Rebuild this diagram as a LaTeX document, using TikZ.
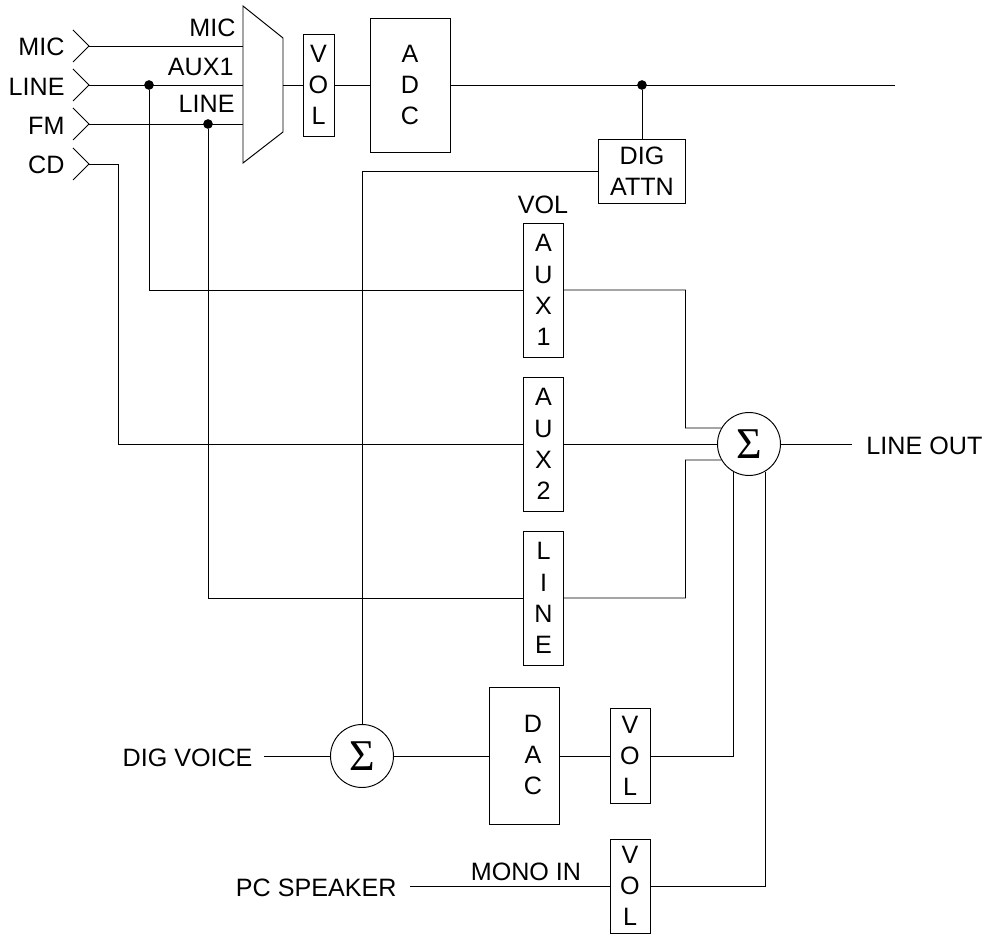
\documentclass[tikz,border=0pt]{standalone}
\usepackage{fontspec}
\setmainfont{Liberation Sans}
\newfontfamily\sigmafont{Liberation Serif}
\begin{document}
\begin{tikzpicture}[x=2cm,y=-2cm,line width=0.55pt,
        every node/.style={font=\fontsize{14.3}{17.8}\selectfont,inner sep=0pt},
        dot/.style={circle,fill=black,minimum size=5.5pt,inner sep=0pt},
        vbox/.style={draw,align=center,minimum width=0.8cm},
        sumnode/.style={circle,draw,minimum size=1.26cm,font=\fontsize{25}{25}\selectfont\sigmafont}]
    \useasboundingbox (0,0) rectangle (9.85,9.34);
    % inputs
    \node[anchor=east] (micl) at (0.65,0.47) {MIC};
    \node[anchor=east] (linel) at (0.65,0.87) {LINE};
    \node[anchor=east] (fml) at (0.65,1.26) {FM};
    \node[anchor=east] (cdl) at (0.65,1.65) {CD};
    \coordinate (micin) at (0.89,0.46);
    \coordinate (linein) at (0.89,0.85);
    \coordinate (fmin) at (0.89,1.24);
    \coordinate (cdin) at (0.89,1.64);
    \foreach \tip in {micin,linein,fmin,cdin}
        \draw (\tip) ++(-0.16,-0.16) -- (\tip) -- ++(-0.16,0.16);
    % mux
    \draw (2.43,0.06) -- (2.83,0.38) -- (2.83,1.32) -- (2.43,1.63) -- cycle;
    \coordinate (muxmic) at (2.43,0.46);
    \coordinate (muxaux) at (2.43,0.85);
    \coordinate (muxline) at (2.43,1.24);
    \coordinate (muxout) at (2.83,0.85);
    \node[anchor=east] (mict) at (2.36,0.28) {MIC};
    \node[anchor=east] (auxt) at (2.34,0.67) {AUX1};
    \node[anchor=east] (linet) at (2.35,1.04) {LINE};
    % capture path
    \node[vbox,minimum width=0.62cm,minimum height=2.04cm] (volin) at (3.185,0.85) {V\\O\\L};
    \node[vbox,minimum width=1.6cm,minimum height=2.68cm] (adc) at (4.10,0.85) {A\\D\\C};
    \coordinate (capout) at (8.95,0.85);
    \node[dot] (capdot) at (6.42,0.85) {};
    \node[draw,align=center,minimum width=1.75cm,minimum height=1.27cm] (attn) at (6.42,1.715) {DIG\\ATTN};
    \draw (micin) -- (muxmic);
    \draw (linein) -- (muxaux);
    \draw (fmin) -- (muxline);
    \draw (muxout) -- (volin);
    \draw (volin) -- (adc);
    \draw (adc) -- (capout);
    \draw (capdot) -- (attn);
    % mixer
    \node[anchor=south] (volt) at (5.43,2.14) {VOL};
    \node[vbox,minimum height=2.68cm] (aux1) at (5.435,2.90) {A\\U\\X\\1};
    \node[vbox,minimum height=2.68cm] (aux2) at (5.435,4.44) {A\\U\\X\\2};
    \node[vbox,minimum height=2.68cm] (linev) at (5.435,5.98) {L\\I\\N\\E};
    \node[sumnode] (sumout) at (7.49,4.44) {Σ};
    \node[anchor=west] (lineout) at (8.66,4.46) {LINE OUT};
    \node[dot] (auxdot) at (1.49,0.85) {};
    \node[dot] (linedot) at (2.08,1.24) {};
    \coordinate (cdcorner) at (1.18,1.64);
    \coordinate (auxcorner) at (6.855,4.28);
    \coordinate (linecorner) at (6.855,4.60);
    \coordinate (lineoutend) at (8.52,4.44);
    \draw (auxdot) |- (aux1);
    \draw (linedot) |- (linev);
    \draw (cdin) -- (cdcorner) |- (aux2);
    \draw (aux1) -| (auxcorner) -- (sumout.150);
    \draw (aux2) -- (sumout);
    \draw (linev) -| (linecorner) -- (sumout.210);
    \draw (sumout) -- (lineoutend);
    % voice path
    \node[anchor=east] (voicel) at (2.53,7.58) {DIG VOICE};
    \coordinate (voicein) at (2.64,7.56);
    \node[sumnode] (sumdig) at (3.62,7.56) {Σ};
    \node[vbox,minimum width=1.4cm,minimum height=2.74cm] (dac) at (5.24,7.56) {};
    \node[align=center] (dact) at (5.33,7.55) {D\\A\\C};
    \node[vbox,minimum height=1.90cm] (dacvol) at (6.30,7.56) {V\\O\\L};
    \draw (voicein) -- (sumdig);
    \draw (sumdig) -- (dac);
    \draw (dac) -- (dacvol);
    \draw (dacvol) -| (sumout.240);
    \draw (attn) -| (sumdig);
    % speaker
    \node[anchor=east] (pcl) at (3.97,8.88) {PC SPEAKER};
    \coordinate (pcin) at (4.10,8.86);
    \node[anchor=south] (monot) at (5.26,8.81) {MONO IN};
    \node[vbox,minimum height=1.88cm] (pcvol) at (6.30,8.86) {V\\O\\L};
    \draw (pcin) -- (pcvol);
    \draw (pcvol) -| (sumout.300);
\end{tikzpicture}
\end{document}
